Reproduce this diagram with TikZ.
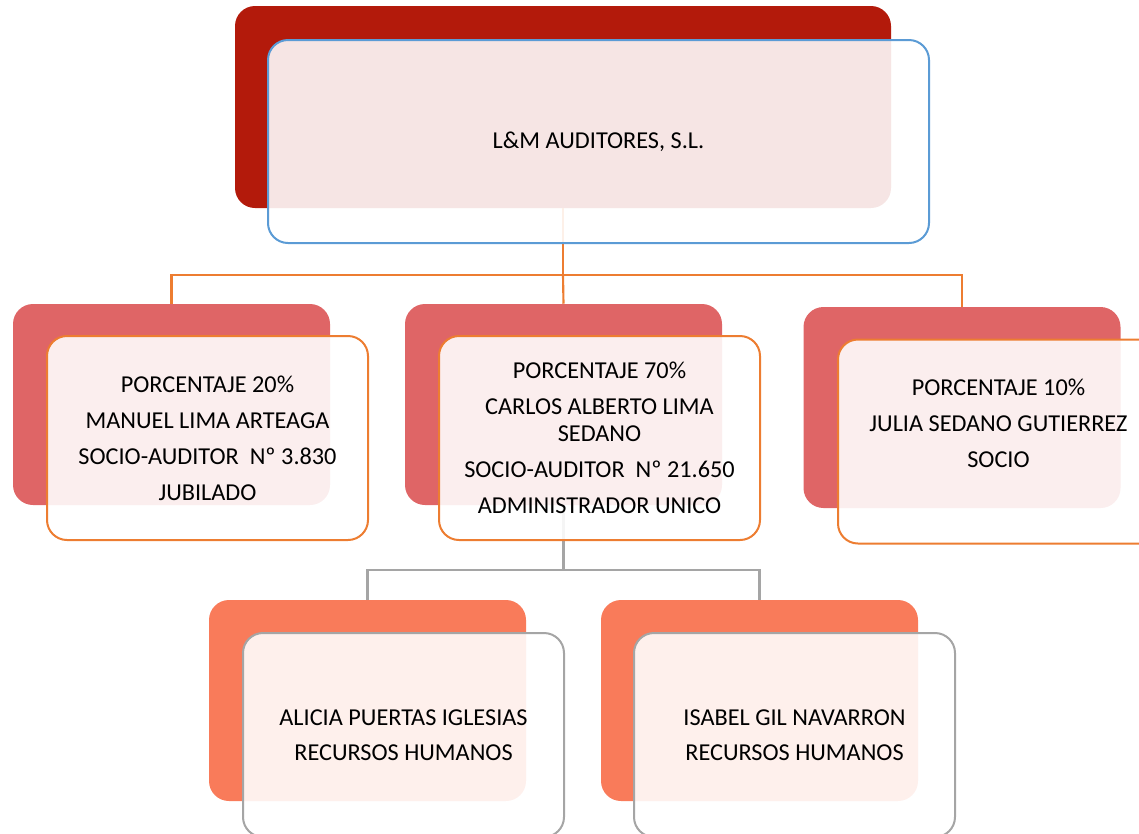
\documentclass[tikz,border=0pt]{standalone}
\usepackage{fontspec}
\setmainfont{Carlito}
\definecolor{topred}{HTML}{B31A0B}
\definecolor{rosered}{HTML}{DF6566}
\definecolor{salmon}{HTML}{F97B5A}
\definecolor{frameblue}{HTML}{5B9BD5}
\definecolor{frameorange}{HTML}{ED7D31}
\definecolor{framegray}{HTML}{A5A5A5}
\tikzset{
 backbox/.style={rounded corners=15pt,inner sep=0pt},
 bigbox/.style={minimum width=492pt,minimum height=151.5pt},
 smallbox/.style={minimum width=237.75pt,minimum height=150.75pt},
 frontbox/.style={rounded corners=15pt,fill=white,fill opacity=0.89,text opacity=1,
   line width=1.5pt,align=center,font=\fontsize{18.2}{20}\selectfont,
   minimum width=240.75pt,minimum height=153pt,inner sep=2pt},
 orangeline/.style={frameorange,line width=1.6pt},
 grayline/.style={framegray,line width=1.6pt}
}
\begin{document}
\begin{tikzpicture}[x=0.75pt,y=-0.75pt]
 \useasboundingbox (0,0) rectangle (1139,833);
 % back boxes
 \node[backbox,bigbox,fill=topred] (firmaB) at (563,107) {};
 \node[backbox,smallbox,fill=rosered] (socioaB) at (171.5,404.5) {};
 \node[backbox,smallbox,fill=rosered] (sociobB) at (563.5,404.5) {};
 \node[backbox,smallbox,fill=rosered] (sociocB) at (962,407.5) {};
 \node[backbox,smallbox,fill=salmon] (rrhhaB) at (367.5,700.5) {};
 \node[backbox,smallbox,fill=salmon] (rrhhbB) at (759.5,700.5) {};
 % connectors
 \coordinate (busA) at (0,275);
 \coordinate (busB) at (0,570);
 \draw[orangeline] (firmaB.south) -- (firmaB.south |- busA) -| (socioaB.north);
 \draw[orangeline] (firmaB.south |- busA) -| (sociocB.north);
 \draw[orangeline] (firmaB.south |- busA) -- (sociobB.north);
 \draw[grayline] (sociobB.south) -- (sociobB.south |- busB) -| (rrhhaB.north);
 \draw[grayline] (sociobB.south |- busB) -| (rrhhbB.north);
 % front boxes
 \node[frontbox,draw=frameblue,minimum width=495.75pt,minimum height=152.25pt]
   (firma) at (598.5,141.5) {\raisebox{-2.25pt}{L\&M AUDITORES, S.L.}};
 \node[frontbox,draw=frameorange] (socioa) at (207.5,438)
   {PORCENTAJE 20\%\\[7pt]MANUEL LIMA ARTEAGA\\[7pt]SOCIO-AUDITOR~ Nº 3.830\\[7pt]JUBILADO};
 \node[frontbox,draw=frameorange] (sociob) at (599.5,438)
   {PORCENTAJE 70\%\\[7pt]CARLOS ALBERTO LIMA\\SEDANO\\[7pt]SOCIO-AUDITOR~ Nº 21.650\\[7pt]ADMINISTRADOR UNICO};
 \node[frontbox,draw=frameorange] (socioc) at (998.5,441.5)
   {PORCENTAJE 10\%\\[7pt]JULIA SEDANO GUTIERREZ\\[7pt]SOCIO\\[7pt]~};
 \node[frontbox,draw=framegray] (rrhha) at (403.5,735)
   {ALICIA PUERTAS IGLESIAS\\[6pt]RECURSOS HUMANOS};
 \node[frontbox,draw=framegray] (rrhhb) at (794.5,735)
   {ISABEL GIL NAVARRON\\[6pt]RECURSOS HUMANOS};
\end{tikzpicture}
\end{document}
